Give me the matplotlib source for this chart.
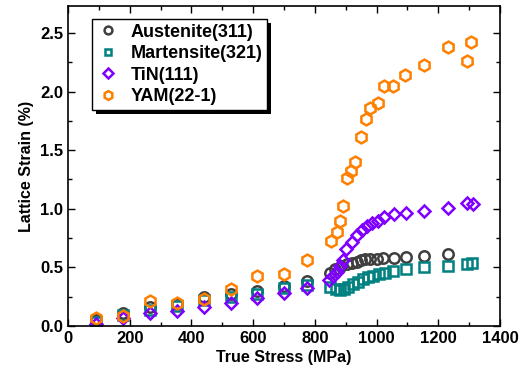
import matplotlib
matplotlib.use("Agg")
import matplotlib.pyplot as plt
from matplotlib.patches import Rectangle
from matplotlib.ticker import MultipleLocator

plt.rcParams['font.family'] = ['Liberation Sans', 'DejaVu Sans']
plt.rcParams['font.weight'] = 'bold'

# Data
aus_x = [90, 179, 266, 352, 441, 527, 612, 700, 776, 849, 866, 884, 903, 920, 936, 949, 963, 979, 1001, 1022, 1055, 1096, 1154, 1233]
aus_y = [0.05, 0.113, 0.165, 0.19, 0.245, 0.27, 0.30, 0.345, 0.386, 0.455, 0.49, 0.51, 0.53, 0.54, 0.55, 0.563, 0.568, 0.568, 0.574, 0.577, 0.58, 0.585, 0.60, 0.61]

mar_x = [90, 179, 266, 352, 441, 527, 612, 700, 776, 849, 869, 882, 895, 909, 925, 941, 957, 973, 990, 1009, 1028, 1052, 1095, 1154, 1233, 1294, 1308]
mar_y = [0.03, 0.09, 0.14, 0.17, 0.22, 0.245, 0.275, 0.32, 0.35, 0.335, 0.313, 0.307, 0.313, 0.33, 0.355, 0.378, 0.398, 0.415, 0.426, 0.443, 0.455, 0.469, 0.483, 0.50, 0.51, 0.53, 0.535]

tin_x = [90, 179, 266, 352, 441, 527, 612, 700, 776, 847, 860, 871, 880, 890, 901, 920, 936, 952, 968, 984, 1006, 1024, 1057, 1096, 1154, 1233, 1294, 1311]
tin_y = [0.02, 0.065, 0.108, 0.13, 0.165, 0.20, 0.236, 0.284, 0.32, 0.39, 0.43, 0.46, 0.51, 0.56, 0.66, 0.72, 0.78, 0.82, 0.85, 0.875, 0.90, 0.93, 0.955, 0.966, 0.98, 1.01, 1.046, 1.04]

yam_x = [90, 179, 266, 352, 441, 527, 612, 700, 776, 852, 871, 882, 890, 903, 916, 930, 949, 965, 980, 1006, 1023, 1054, 1093, 1153, 1232, 1294, 1307]
yam_y = [0.066, 0.088, 0.216, 0.199, 0.228, 0.318, 0.426, 0.443, 0.563, 0.727, 0.80, 0.90, 1.02, 1.26, 1.32, 1.40, 1.61, 1.77, 1.86, 1.90, 2.05, 2.05, 2.14, 2.23, 2.38, 2.26, 2.42]

labels = ['Austenite(311)', 'Martensite(321)', 'TiN(111)', 'YAM(22-1)']
colors = ['#3f3f3f', '#008080', '#8000ff', '#ff7f00']
markers = ['o', 's', 'D', 'h']
sizes = [7.5, 6.5, 6.5, 8.5]

fig = plt.figure(figsize=(5.2, 3.76), dpi=100)
ax = fig.add_axes([68/520, 50/376, 432/520, 320/376])

series = [(aus_x, aus_y), (mar_x, mar_y), (tin_x, tin_y), (yam_x, yam_y)]
for (xs, ys), lab, c, m, s in zip(series, labels, colors, markers, sizes):
    ax.plot(xs, ys, linestyle='none', marker=m, markersize=s, markerfacecolor='none',
            markeredgecolor=c, markeredgewidth=1.8, label=lab)

ax.set_xlim(0, 1400)
ax.set_ylim(0, 2.73)
ax.xaxis.set_major_locator(MultipleLocator(200))
ax.xaxis.set_minor_locator(MultipleLocator(100))
ax.yaxis.set_major_locator(MultipleLocator(0.5))
ax.yaxis.set_minor_locator(MultipleLocator(0.25))
ax.yaxis.set_major_formatter(matplotlib.ticker.FormatStrFormatter('%.1f'))
ax.tick_params(which='both', direction='in', top=True, right=True, labelsize=12, width=1)
ax.tick_params(which='major', length=5)
ax.tick_params(which='minor', length=3)
for sp in ax.spines.values():
    sp.set_linewidth(1.2)

ax.set_xlabel('True Stress (MPa)', fontsize=11.5, fontweight='bold', labelpad=3)
ax.set_ylabel('Lattice Strain (%)', fontsize=11.5, fontweight='bold', labelpad=4)

leg = ax.legend(loc='upper left', bbox_to_anchor=(24/432, 1 - 13/320), borderaxespad=0,
                fancybox=False, edgecolor='black', framealpha=1, fontsize=13,
                markerscale=0.75, labelspacing=0.25, handletextpad=0.6, borderpad=0.25,
                handlelength=1.3)
leg.get_frame().set_linewidth(1.0)
leg.set_zorder(6)

fig.canvas.draw()
bb = leg.get_window_extent()
shadow = Rectangle((bb.x0 + 4, bb.y0 - 4), bb.width, bb.height, transform=None,
                   facecolor='black', edgecolor='none', zorder=5.5, clip_on=False)
ax.add_patch(shadow)

fig.savefig('out.png', dpi=100)
